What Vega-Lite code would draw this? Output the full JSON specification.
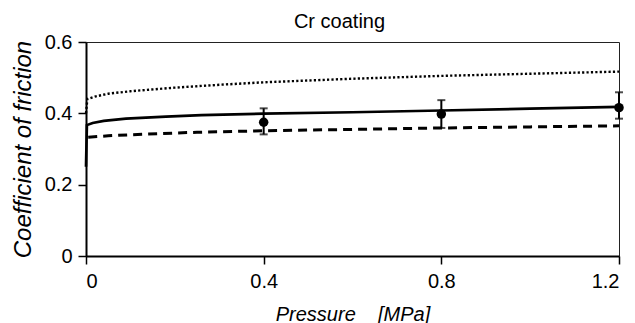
{
  "$schema": "https://vega.github.io/schema/vega-lite/v6.json",
  "width": 533,
  "height": 214,
  "autosize": {"type": "none"},
  "padding": {"left": 86, "top": 42, "right": 16, "bottom": 67},
  "background": "white",
  "config": {
    "view": {"stroke": "#222", "strokeWidth": 1},
    "font": "Liberation Sans",
    "axis": {
      "grid": false,
      "domainColor": "black",
      "domainWidth": 2,
      "tickColor": "black",
      "tickWidth": 1.5,
      "tickSize": 8,
      "labelColor": "black",
      "labelFont": "Liberation Sans",
      "labelFontSize": 20,
      "titleColor": "black",
      "titleFont": "Liberation Sans",
      "titleFontStyle": "italic",
      "titleFontWeight": "normal"
    }
  },
  "title": {
    "text": "Cr coating",
    "font": "Liberation Sans",
    "fontSize": 20,
    "fontWeight": "normal",
    "color": "black",
    "frame": "group",
    "anchor": "middle",
    "baseline": "bottom",
    "offset": -20,
    "dx": -13
  },
  "datasets": {
    "curves": [
      {"series": "dotted", "p": 0.0, "cof": 0.40},
      {"series": "dotted", "p": 0.003, "cof": 0.44},
      {"series": "dotted", "p": 0.02, "cof": 0.447},
      {"series": "dotted", "p": 0.05, "cof": 0.455},
      {"series": "dotted", "p": 0.1, "cof": 0.462},
      {"series": "dotted", "p": 0.2, "cof": 0.472},
      {"series": "dotted", "p": 0.3, "cof": 0.48},
      {"series": "dotted", "p": 0.4, "cof": 0.487},
      {"series": "dotted", "p": 0.5, "cof": 0.492},
      {"series": "dotted", "p": 0.6, "cof": 0.497},
      {"series": "dotted", "p": 0.7, "cof": 0.501},
      {"series": "dotted", "p": 0.8, "cof": 0.505},
      {"series": "dotted", "p": 0.9, "cof": 0.508},
      {"series": "dotted", "p": 1.0, "cof": 0.511},
      {"series": "dotted", "p": 1.1, "cof": 0.514},
      {"series": "dotted", "p": 1.2, "cof": 0.517},
      {"series": "solid", "p": 0.0, "cof": 0.25},
      {"series": "solid", "p": 0.002, "cof": 0.367},
      {"series": "solid", "p": 0.015, "cof": 0.373},
      {"series": "solid", "p": 0.04, "cof": 0.379},
      {"series": "solid", "p": 0.09, "cof": 0.385},
      {"series": "solid", "p": 0.18, "cof": 0.391},
      {"series": "solid", "p": 0.26, "cof": 0.395},
      {"series": "solid", "p": 0.4, "cof": 0.399},
      {"series": "solid", "p": 0.6, "cof": 0.403},
      {"series": "solid", "p": 0.8, "cof": 0.408},
      {"series": "solid", "p": 1.0, "cof": 0.413},
      {"series": "solid", "p": 1.2, "cof": 0.418},
      {"series": "dashed", "p": 0.005, "cof": 0.333},
      {"series": "dashed", "p": 0.05, "cof": 0.337},
      {"series": "dashed", "p": 0.1, "cof": 0.34},
      {"series": "dashed", "p": 0.25, "cof": 0.347},
      {"series": "dashed", "p": 0.4, "cof": 0.351},
      {"series": "dashed", "p": 0.6, "cof": 0.355},
      {"series": "dashed", "p": 0.8, "cof": 0.359},
      {"series": "dashed", "p": 1.0, "cof": 0.362},
      {"series": "dashed", "p": 1.2, "cof": 0.365}
    ],
    "measured": [
      {"p": 0.4, "cof": 0.375, "lo": 0.341, "hi": 0.414},
      {"p": 0.8, "cof": 0.398, "lo": 0.359, "hi": 0.437},
      {"p": 1.2, "cof": 0.416, "lo": 0.385, "hi": 0.459}
    ]
  },
  "encoding": {
    "x": {
      "field": "p",
      "type": "quantitative",
      "scale": {"domain": [0, 1.2], "nice": false, "zero": false},
      "axis": {
        "values": [0, 0.4, 0.8, 1.2],
        "format": "~g",
        "labelPadding": 7,
        "title": "Pressure\u00a0\u00a0\u00a0\u00a0[MPa]",
        "titleFontSize": 20,
        "titlePadding": 13
      }
    },
    "y": {
      "field": "cof",
      "type": "quantitative",
      "scale": {"domain": [0, 0.6], "nice": false},
      "axis": {
        "values": [0, 0.2, 0.4, 0.6],
        "format": "~g",
        "labelPadding": 6,
        "title": "Coefficient of friction",
        "titleFontSize": 24,
        "titlePadding": 9
      }
    }
  },
  "layer": [
    {
      "data": {"name": "curves"},
      "transform": [{"filter": "datum.series === 'dotted'"}],
      "mark": {"type": "line", "color": "black", "strokeWidth": 2.4, "strokeDash": [2.2, 2.2]}
    },
    {
      "data": {"name": "curves"},
      "transform": [{"filter": "datum.series === 'solid'"}],
      "mark": {"type": "line", "color": "black", "strokeWidth": 2.7}
    },
    {
      "data": {"name": "curves"},
      "transform": [{"filter": "datum.series === 'dashed'"}],
      "mark": {"type": "line", "color": "black", "strokeWidth": 3, "strokeDash": [9, 6]}
    },
    {
      "data": {"name": "measured"},
      "mark": {"type": "rule", "color": "black", "strokeWidth": 2},
      "encoding": {"y": {"field": "lo", "type": "quantitative"}, "y2": {"field": "hi"}}
    },
    {
      "data": {"name": "measured"},
      "mark": {"type": "tick", "orient": "horizontal", "color": "black", "size": 8, "thickness": 2},
      "encoding": {"y": {"field": "lo", "type": "quantitative"}}
    },
    {
      "data": {"name": "measured"},
      "mark": {"type": "tick", "orient": "horizontal", "color": "black", "size": 8, "thickness": 2},
      "encoding": {"y": {"field": "hi", "type": "quantitative"}}
    },
    {
      "data": {"name": "measured"},
      "mark": {"type": "point", "shape": "circle", "filled": true, "color": "black", "opacity": 1, "size": 90}
    }
  ]
}
